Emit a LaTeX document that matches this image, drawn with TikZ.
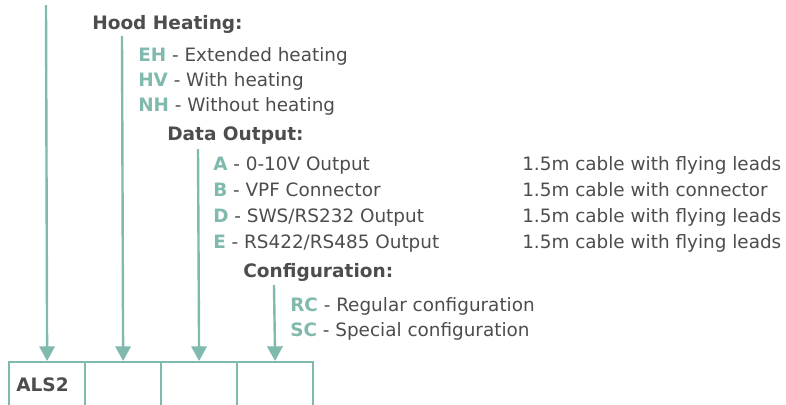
\documentclass[tikz,border=0pt]{standalone}
\usepackage{fontspec}
\setmainfont{DejaVu Sans}
\usetikzlibrary{arrows.meta}
\definecolor{teal1}{RGB}{128,185,174}
\definecolor{txt}{RGB}{77,77,77}
\newcommand{\cd}[1]{\textcolor{teal1}{\textbf{#1}}}
\begin{document}
\begin{tikzpicture}[x=0.75pt,y=-0.75pt,
  lbl/.style={anchor=base west, inner sep=0pt, text=txt, font=\fontsize{13.8}{17}\selectfont},
  head/.style={anchor=base west, inner sep=0pt, text=txt, font=\fontsize{13.9}{17}\selectfont\bfseries},
  cell/.style={draw=teal1, line width=1.7pt, minimum width=57pt, minimum height=45pt, anchor=north west, inner sep=0pt},
  arr/.style={draw=teal1, line width=1.8pt, -{Triangle[width=11.5pt,length=11pt]}}]
\useasboundingbox (0,0) rectangle (786,404);
% cells
\node[cell] (c1) at (8,361) {};
\node[cell] (c2) at (84,361) {};
\node[cell] (c3) at (160,361) {};
\node[cell] (c4) at (236,361) {};
\node[head] (als) at (16,391.7) {ALS2};
% arrow starts
\coordinate (s1) at (46,5);
\coordinate (s2) at (122,36);
\coordinate (s3) at (198,149);
\coordinate (s4) at (274,285);
\draw[arr] (s1) -- (c1.north);
\draw[arr] (s2) -- (c2.north);
\draw[arr] (s3) -- (c3.north);
\draw[arr] (s4) -- (c4.north);
% hood heating
\node[head] (hh) at (92,29.5) {Hood Heating:};
\node[lbl] (eh) at (138,61) {\cd{EH} - Extended heating};
\node[lbl] (hv) at (138,86.5) {\cd{HV} - With heating};
\node[lbl] (nh) at (138,111.7) {\cd{NH} - Without heating};
% data output
\node[head] (dout) at (167,140.5) {Data Output:};
\node[lbl] (a) at (213,170) {\cd{A} - 0-10V Output};
\node[lbl] (b) at (213,196.5) {\cd{B} - VPF Connector};
\node[lbl] (d) at (213,222.5) {\cd{D} - SWS/RS232 Output};
\node[lbl] (e) at (213,248.5) {\cd{E} - RS422/RS485 Output};
\node[lbl] (ca) at (522,170) {1.5m cable with flying leads};
\node[lbl] (cb) at (522,196.5) {1.5m cable with connector};
\node[lbl] (cdd) at (522,222.5) {1.5m cable with flying leads};
\node[lbl] (ce) at (522,248.5) {1.5m cable with flying leads};
% configuration
\node[head] (conf) at (243,277.7) {Configuration:};
\node[lbl] (rc) at (290,311.7) {\cd{RC} - Regular configuration};
\node[lbl] (sc) at (290,336) {\cd{SC} - Special configuration};
\end{tikzpicture}
\end{document}
